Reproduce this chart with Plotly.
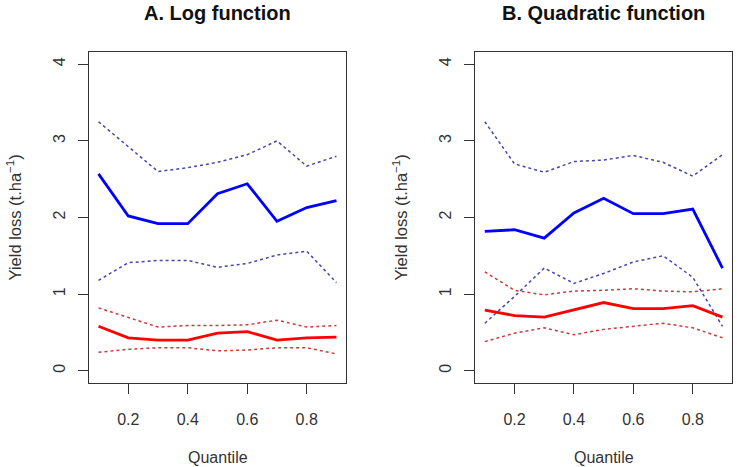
import plotly.graph_objects as go

quantile = [0.1, 0.2, 0.3, 0.4, 0.5, 0.6, 0.7, 0.8, 0.9]

# Panel A: Log function
a_blue_mid = [2.57, 2.02, 1.92, 1.92, 2.31, 2.44, 1.95, 2.13, 2.22]
a_blue_up = [3.25, 2.93, 2.60, 2.65, 2.72, 2.82, 3.00, 2.67, 2.80]
a_blue_lo = [1.18, 1.41, 1.44, 1.44, 1.35, 1.40, 1.51, 1.56, 1.15]
a_red_mid = [0.58, 0.43, 0.40, 0.40, 0.49, 0.51, 0.40, 0.43, 0.44]
a_red_up = [0.82, 0.69, 0.57, 0.59, 0.59, 0.60, 0.66, 0.57, 0.59]
a_red_lo = [0.24, 0.28, 0.30, 0.30, 0.26, 0.27, 0.30, 0.30, 0.22]

# Panel B: Quadratic function
b_blue_mid = [1.82, 1.84, 1.73, 2.06, 2.25, 2.05, 2.05, 2.11, 1.34]
b_blue_up = [3.25, 2.70, 2.59, 2.73, 2.75, 2.81, 2.72, 2.54, 2.82]
b_blue_lo = [0.62, 0.97, 1.34, 1.14, 1.27, 1.42, 1.50, 1.22, 0.58]
b_red_mid = [0.79, 0.72, 0.70, 0.79, 0.89, 0.81, 0.81, 0.85, 0.70]
b_red_up = [1.29, 1.05, 0.99, 1.04, 1.05, 1.07, 1.04, 1.03, 1.07]
b_red_lo = [0.38, 0.49, 0.56, 0.47, 0.54, 0.58, 0.62, 0.56, 0.43]

x_ticks = [0.2, 0.4, 0.6, 0.8]
y_ticks = [0, 1, 2, 3, 4]
titles = ["A. Log function", "B. Quadratic function"]
y_label = "Yield loss (t.ha<sup>−1</sup>)"
x_label = "Quantile"

FONT = "Liberation Sans, Arial, sans-serif"
BLUE = "#0000FF"
RED = "#FF0000"
BLUE_D = "rgb(70,70,175)"
RED_D = "rgb(200,60,60)"

fig = go.Figure()

panels = [
    (a_blue_up, a_blue_mid, a_blue_lo, a_red_up, a_red_mid, a_red_lo, "x", "y"),
    (b_blue_up, b_blue_mid, b_blue_lo, b_red_up, b_red_mid, b_red_lo, "x2", "y2"),
]
for bu, bm, bl, ru, rm, rl, xa, ya in panels:
    for vals, col, w, dash in [
        (bu, BLUE_D, 1.5, "dot"), (bl, BLUE_D, 1.5, "dot"),
        (ru, RED_D, 1.5, "dot"), (rl, RED_D, 1.5, "dot"),
        (bm, BLUE, 2.8, "solid"), (rm, RED, 2.8, "solid"),
    ]:
        fig.add_trace(go.Scatter(x=quantile, y=vals, mode="lines", xaxis=xa, yaxis=ya,
                                 line=dict(color=col, width=w, dash=dash),
                                 showlegend=False, hoverinfo="skip"))

W, H = 737, 467
ydom = [(H - 383) / H, (H - 52) / H]
xdoms = [[89 / W, 346 / W], [475.3 / W, 732 / W]]

axis_common = dict(showline=True, mirror=True, linecolor="#333333", linewidth=1.2,
                   ticks="outside", ticklen=10, tickcolor="#333333", tickwidth=1.2,
                   showgrid=False, zeroline=False,
                   tickfont=dict(family=FONT, size=16, color="#333333"))

layout = dict(
    width=W, height=H, margin=dict(l=0, r=0, t=0, b=0),
    paper_bgcolor="white", plot_bgcolor="white",
    font=dict(family=FONT, color="#222222"),
)
for i, suf in enumerate(["", "2"]):
    layout["xaxis" + suf] = dict(axis_common, domain=xdoms[i], range=[0.068, 0.932],
                                 tickvals=x_ticks, ticktext=[str(v) for v in x_ticks],
                                 ticklabelstandoff=12, anchor="y" + suf)
    layout["yaxis" + suf] = dict(axis_common, domain=ydom, range=[-0.16, 4.16],
                                 tickvals=y_ticks, tickangle=-90,
                                 ticklabelstandoff=7, anchor="x" + suf)
fig.update_layout(**layout)

centers = [(89 + 346) / 2, (475.3 + 732) / 2]
ylab_x = [15, 401]
for i in range(2):
    fig.add_annotation(x=centers[i] / W, y=1 - 13 / H, xref="paper", yref="paper",
                       text="<b>" + titles[i] + "</b>", showarrow=False,
                       xanchor="center", yanchor="middle",
                       font=dict(family=FONT, size=20, color="#111111"))
    fig.add_annotation(x=centers[i] / W, y=1 - 457 / H, xref="paper", yref="paper",
                       text=x_label, showarrow=False, xanchor="center", yanchor="middle",
                       font=dict(family=FONT, size=16, color="#333333"))
    fig.add_annotation(x=ylab_x[i] / W, y=1 - 217.5 / H, xref="paper", yref="paper",
                       text=y_label, showarrow=False, textangle=-90,
                       xanchor="center", yanchor="middle",
                       font=dict(family=FONT, size=16.5, color="#333333"))

fig.write_html("out.html", config={"displayModeBar": False},
               post_script="document.body.style.margin='0';")
